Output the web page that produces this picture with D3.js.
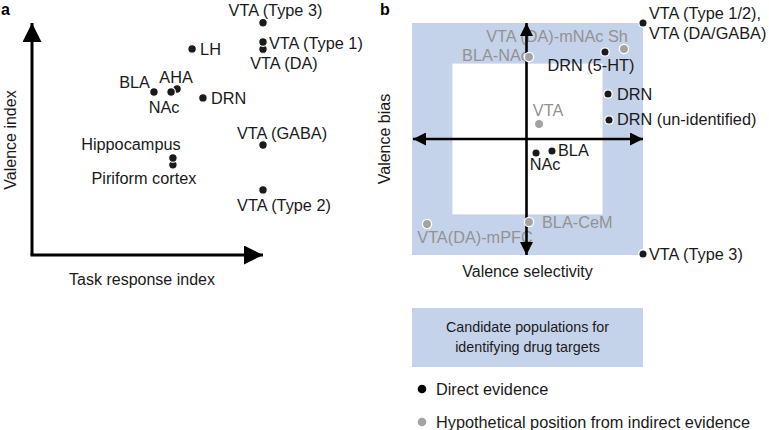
<!DOCTYPE html>
<html><head><meta charset="utf-8">
<script src="https://cdn.jsdelivr.net/npm/d3@7"></script>
<style>
html,body{margin:0;padding:0;background:#fff;}
svg{display:block;font-family:"Liberation Sans",Arial,Helvetica,sans-serif;}
</style></head>
<body>
<svg id="chart" width="769" height="430"></svg>
<script>
// ---- Panel a data (abstract indices, 0..1) ----
const aNames   = ["VTA (DA)","VTA (Type 1)","VTA (Type 3)","LH","BLA","AHA","NAc","DRN","VTA (GABA)","Piriform cortex","Hippocampus","VTA (Type 2)"];
const aTask    = [1.00, 1.00, 1.00, 0.693, 0.528, 0.628, 0.602, 0.740, 1.00, 0.610, 0.610, 1.00];
const aValence = [0.895, 0.926, 1.01, 0.896, 0.709, 0.722, 0.709, 0.683, 0.478, 0.392, 0.422, 0.283];

// ---- Panel b data (-1..1) ----
const bNames       = ["VTA (Type 1/2),\nVTA (DA/GABA)","DRN (5-HT)","VTA (DA)-mNAc Sh","BLA-NAc","DRN","DRN (un-identified)","VTA","BLA","NAc","BLA-CeM","VTA(DA)-mPFC","VTA (Type 3)"];
const bSelectivity = [1.00, 0.671, 0.835, 0.013, 0.697, 0.706, 0.100, 0.212, 0.074, 0.013, -0.870, 1.00];
const bBias        = [1.00, 0.750, 0.776, 0.707, 0.388, 0.164, 0.129, -0.103, -0.121, -0.716, -0.733, -0.991];
const bEvidence    = ["direct","direct","indirect","indirect","direct","direct","indirect","direct","direct","indirect","indirect","direct"];
const bInnerLimit  = 0.65; // candidate-population band boundary

// ---- Legend ----
const legendBoxText = ["Candidate populations for","identifying drug targets"];
const legendItems   = ["direct","indirect"];
const legendLabels  = ["Direct evidence","Hypothetical position from indirect evidence"];

// ---- label placement (style) ----
const labA = {
 "VTA (Type 3)":[12.5,-12,"middle"], "VTA (Type 1)":[6,1,"start"], "VTA (DA)":[21,14,"middle"],
 "LH":[8,0,"start"], "BLA":[-4,-10,"end"], "AHA":[-1,-12,"middle"], "NAc":[-7,15,"middle"],
 "DRN":[8,0,"start"], "VTA (GABA)":[19,-12,"middle"], "Hippocampus":[-42,-14,"middle"],
 "Piriform cortex":[-29,13,"middle"], "VTA (Type 2)":[21,15,"middle"]
};
const labB = {
 "VTA (Type 1/2),\nVTA (DA/GABA)":[6,-10,"start"], "DRN (5-HT)":[-14,13,"middle"],
 "VTA (DA)-mNAc Sh":[4,-13,"end"], "BLA-NAc":[0,-2,"end"], "DRN":[9,0,"start"],
 "DRN (un-identified)":[8,-1,"start"], "VTA":[9,-14,"middle"], "BLA":[6,-1,"start"],
 "NAc":[9,11,"middle"], "BLA-CeM":[13,0,"start"], "VTA(DA)-mPFC":[48,13,"middle"], "VTA (Type 3)":[6,0,"start"]
};

const BLUE = "#c5d3ea", BLACK = "#1a1a1a", GRAY = "#a3a3a3", GRAYTXT = "#929292";
const FS = 16.3;
const svg = d3.select("#chart");

const defs = svg.append("defs");
function marker(id, size){
  defs.append("marker").attr("id",id).attr("viewBox","0 0 10 10").attr("refX",10).attr("refY",5)
    .attr("markerWidth",size).attr("markerHeight",size).attr("markerUnits","userSpaceOnUse")
    .attr("orient","auto-start-reverse")
    .append("path").attr("d","M0,0L10,5L0,10Z").attr("fill","#000");
}
marker("arrA",19); marker("arrB",13);

// ================= Panel a =================
const xA = d3.scaleLinear().domain([0,1]).range([32,263]);
const yA = d3.scaleLinear().domain([0,1]).range([255,25]);
const gA = svg.append("g");
gA.append("text").attr("x",1).attr("y",15).attr("font-weight","bold").attr("font-size",16).text("a");
gA.append("line").attr("x1",xA(0)).attr("y1",yA(0)).attr("x2",xA(0)).attr("y2",yA(1)-2)
  .attr("stroke","#000").attr("stroke-width",3).attr("marker-end","url(#arrA)");
gA.append("line").attr("x1",xA(0)-1.5).attr("y1",yA(0)).attr("x2",xA(1)).attr("y2",yA(0))
  .attr("stroke","#000").attr("stroke-width",3).attr("marker-end","url(#arrA)");
gA.append("text").attr("transform",`translate(16,${(yA(0)+yA(1))/2}) rotate(-90)`)
  .attr("text-anchor","middle").attr("font-size",16).attr("fill",BLACK).text("Valence index");
gA.append("text").attr("x",142).attr("y",285).attr("text-anchor","middle").attr("font-size",16).attr("fill",BLACK).text("Task response index");

const aData = aNames.map((n,i)=>({n, x:aTask[i], y:aValence[i]}));
gA.selectAll("circle.pt").data(aData).enter().append("circle")
  .attr("cx",d=>xA(d.x)).attr("cy",d=>yA(d.y)).attr("r",4.3)
  .attr("fill",BLACK).attr("stroke","#fff").attr("stroke-width",1.2);
gA.selectAll("text.lab").data(aData).enter().append("text")
  .attr("x",d=>xA(d.x)+labA[d.n][0]).attr("y",d=>yA(d.y)+labA[d.n][1])
  .attr("dy","0.35em").attr("text-anchor",d=>labA[d.n][2]).attr("font-size",FS).attr("fill",BLACK).text(d=>d.n);

// ================= Panel b =================
const xB = d3.scaleLinear().domain([-1,1]).range([412,643]);
const yB = d3.scaleLinear().domain([-1,1]).range([255,23]);
const gB = svg.append("g");
gB.append("text").attr("x",380).attr("y",15).attr("font-weight","bold").attr("font-size",16).text("b");
gB.append("rect").attr("x",xB(-1)).attr("y",yB(1)).attr("width",xB(1)-xB(-1)).attr("height",yB(-1)-yB(1)).attr("fill",BLUE);
gB.append("rect").attr("x",xB(-bInnerLimit)).attr("y",yB(bInnerLimit)).attr("width",xB(bInnerLimit)-xB(-bInnerLimit))
  .attr("height",yB(-bInnerLimit)-yB(bInnerLimit)).attr("fill","#fff");

const bData = bNames.map((n,i)=>({n, x:bSelectivity[i], y:bBias[i], e:bEvidence[i]}));
// labels
bData.forEach(d=>{
  const p = labB[d.n];
  const t = gB.append("text").attr("x",xB(d.x)+p[0]).attr("y",yB(d.y)+p[1]).attr("text-anchor",p[2])
    .attr("font-size",FS).attr("fill",d.e==="direct"?BLACK:GRAYTXT);
  const lines = d.n.split("\n");
  lines.forEach((l,k)=>t.append("tspan").attr("x",xB(d.x)+p[0]).attr("dy",k===0?"0.35em":"1.25em").text(l));
});
// axes
gB.append("line").attr("x1",xB(0)-1).attr("y1",yB(-1)).attr("x2",xB(0)-1).attr("y2",yB(1))
  .attr("stroke","#000").attr("stroke-width",2.6).attr("marker-start","url(#arrB)").attr("marker-end","url(#arrB)");
gB.append("line").attr("x1",xB(-1)+1).attr("y1",yB(0)).attr("x2",xB(1)).attr("y2",yB(0))
  .attr("stroke","#000").attr("stroke-width",2.6).attr("marker-start","url(#arrB)").attr("marker-end","url(#arrB)");
// points
gB.selectAll("circle.pt").data(bData).enter().append("circle")
  .attr("cx",d=>xB(d.x)).attr("cy",d=>yB(d.y)).attr("r",d=>d.e==="direct"?4.2:4.6)
  .attr("fill",d=>d.e==="direct"?BLACK:GRAY).attr("stroke","#fff").attr("stroke-width",1.3);
gB.append("text").attr("transform",`translate(390,${(yB(-1)+yB(1))/2}) rotate(-90)`)
  .attr("text-anchor","middle").attr("font-size",16).attr("fill",BLACK).text("Valence bias");
gB.append("text").attr("x",(xB(-1)+xB(1))/2).attr("y",277).attr("text-anchor","middle").attr("font-size",16).attr("fill",BLACK).text("Valence selectivity");

// ================= Legend =================
const gL = svg.append("g");
gL.append("rect").attr("x",xB(-1)).attr("y",308).attr("width",xB(1)-xB(-1)).attr("height",59).attr("fill",BLUE);
gL.selectAll("text.box").data(legendBoxText).enter().append("text")
  .attr("x",(xB(-1)+xB(1))/2).attr("y",(d,i)=>327+i*20).attr("dy","0.35em").attr("text-anchor","middle")
  .attr("font-size",14.3).attr("fill",BLACK).text(d=>d);
legendItems.forEach((e,i)=>{
  gL.append("circle").attr("cx",422).attr("cy",389+i*33).attr("r",4.3).attr("fill",e==="direct"?"#000":GRAY);
  gL.append("text").attr("x",436).attr("y",389+i*33).attr("dy","0.35em").attr("font-size",FS).attr("fill",BLACK).text(legendLabels[i]);
});
</script>
</body></html>
